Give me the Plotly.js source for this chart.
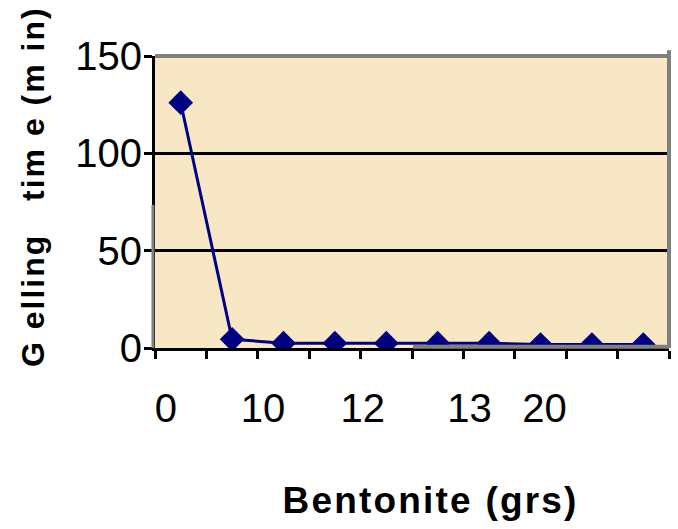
<!DOCTYPE html>
<html>
<head>
<meta charset="utf-8">
<script src="https://cdn.plot.ly/plotly-3.0.1.min.js"></script>
<style>
  html, body { margin: 0; padding: 0; background: #ffffff; }
  #chart { width: 678px; height: 529px; }
  g.annotation[data-index="0"] .annotation-text { letter-spacing: 2.2px; }
  g.annotation[data-index="1"] .annotation-text { letter-spacing: 2px; }
</style>
</head>
<body>
<div id="chart"></div>
<script>
// ---- data ----
var pointIndex = [0, 1, 2, 3, 4, 5, 6, 7, 8, 9];
var gellingTime = [126, 4.5, 2.5, 2.5, 2.5, 2.5, 2.5, 1.8, 1.8, 1.8];
var tickLabels = ['0', '10', '12', '13', '20'];
var tickLabelAt = [-0.29, 1.6, 3.54, 5.62, 7.08];
var yTitle = 'G elling&nbsp;&nbsp; tim e (m in)';
var xTitle = 'Bentonite (grs)';

var navy = '#000080';

var traces = [
  {
    type: 'scatter',
    mode: 'lines+markers',
    x: pointIndex,
    y: gellingTime,
    xaxis: 'x',
    yaxis: 'y',
    line: { color: navy, width: 3 },
    marker: { symbol: 'diamond', size: 19, color: navy },
    showlegend: false,
    hoverinfo: 'x+y'
  },
  {
    type: 'scatter',
    mode: 'markers',
    x: tickLabelAt,
    y: tickLabelAt.map(function () { return null; }),
    xaxis: 'x2',
    yaxis: 'y',
    marker: { opacity: 0 },
    showlegend: false,
    hoverinfo: 'skip'
  }
];

var layout = {
  width: 678,
  height: 529,
  margin: { l: 155, r: 9, t: 56, b: 181, pad: 0 },
  paper_bgcolor: '#ffffff',
  plot_bgcolor: '#F8E7C5',
  font: { family: 'Liberation Sans, Arial, sans-serif', color: '#000000' },
  showlegend: false,
  xaxis: {
    type: 'linear',
    range: [-0.5, 9.5],
    tick0: -0.5,
    dtick: 1,
    showticklabels: false,
    ticks: 'outside',
    ticklen: 8,
    tickwidth: 3,
    tickcolor: '#000000',
    showline: true,
    linecolor: '#000000',
    linewidth: 3,
    showgrid: false,
    zeroline: false,
    fixedrange: true
  },
  xaxis2: {
    type: 'linear',
    overlaying: 'x',
    anchor: 'y',
    side: 'bottom',
    range: [-0.5, 9.5],
    tickmode: 'array',
    tickvals: tickLabelAt,
    ticktext: tickLabels,
    ticks: '',
    ticklabelstandoff: 33,
    tickfont: { size: 40, color: '#000000', family: 'Liberation Sans, Arial, sans-serif' },
    showline: false,
    showgrid: false,
    zeroline: false,
    fixedrange: true
  },
  yaxis: {
    range: [0, 150],
    tickmode: 'linear',
    tick0: 0,
    dtick: 50,
    ticks: 'outside',
    ticklen: 8,
    tickwidth: 3,
    tickcolor: '#000000',
    tickfont: { size: 40, color: '#000000', family: 'Liberation Sans, Arial, sans-serif' },
    ticklabelstandoff: -6,
    showline: true,
    linecolor: '#000000',
    linewidth: 3,
    showgrid: true,
    gridcolor: '#000000',
    gridwidth: 3,
    zeroline: false,
    fixedrange: true
  },
  shapes: [
    { type: 'line', xref: 'paper', yref: 'paper', x0: 0, x1: 1, y0: 1, y1: 1,
      line: { color: '#808080', width: 4 }, layer: 'above' },
    { type: 'line', xref: 'paper', yref: 'paper', x0: 1, x1: 1, y0: 0, y1: 1.02,
      line: { color: '#808080', width: 4 }, layer: 'above' },
    { type: 'line', xref: 'paper', yref: 'paper', x0: 0.502, x1: 1, y0: 0.004, y1: 0.004,
      line: { color: '#808080', width: 4 }, layer: 'above' },
    { type: 'line', xref: 'paper', yref: 'paper', x0: -0.004, x1: -0.004, y0: 0, y1: 0.49,
      line: { color: '#808080', width: 3 }, layer: 'above' }
  ],
  annotations: [
    {
      text: '<b>' + xTitle + '</b>',
      xref: 'paper', yref: 'paper',
      x: 0, y: 0,
      xanchor: 'center', yanchor: 'middle',
      xshift: 430 - 155, yshift: -152,
      showarrow: false,
      font: { size: 37, color: '#000000', family: 'Liberation Sans, Arial, sans-serif' }
    },
    {
      text: '<b>' + yTitle + '</b>',
      xref: 'paper', yref: 'paper',
      x: 0, y: 0.5,
      xanchor: 'center', yanchor: 'middle',
      xshift: 33 - 155, yshift: 15,
      textangle: -90,
      showarrow: false,
      font: { size: 32, color: '#000000', family: 'Liberation Sans, Arial, sans-serif' }
    }
  ]
};

Plotly.newPlot('chart', traces, layout, { displayModeBar: false, staticPlot: true });
</script>
</body>
</html>
